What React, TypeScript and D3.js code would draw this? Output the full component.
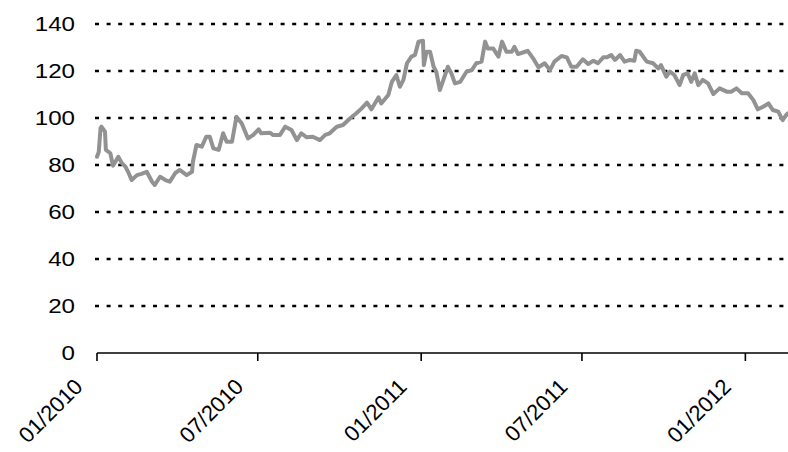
import React from "react";
import * as d3 from "d3";

const startDate = new Date(2010, 0, 1);
const dayOffsets = [0,2,4,5,9,10,15,18,24,28,32,35,39,45,50,56,62,65,71,77,82,88,93,101,107,108,112,118,123,127,131,137,142,146,152,157,163,170,176,182,185,195,
198,206,212,219,225,230,236,243,251,257,262,270,277,285,292,298,304,309,317,320,328,332,337,341,345,349,354,358,362,367,368,371,375,379,382,386,390,395,399,403,409,416,422,427,433,437,440,446,452,456,461,467,470,474,482,485,491,497,504,510,515,523,529,534,540,547,553,559,564,570,574,579,583,589,594,600,605,607,611,619,626,632,635,641,645,650,656,660,665,669,673,677,682,688,694,701,709,714,720,726,733,739,744,750,756,761,767,772,776,778];
const values = [83.5,85.6,95.7,96.3,94.2,86.4,85,79.7,83.5,80.8,79.3,77.1,73.6,75.7,76.2,77.1,72.9,71.5,75,73.6,72.9,76.5,77.9,75.7,77.1,81.4,88.5,87.8,92,92,87.1,86.4,93.5,89.9,89.9,100.5,97.7,91.3,92.8,95.2,93.5,93.7,
92.8,92.8,96.3,94.9,90.6,93.5,91.8,92,90.6,92.8,93.5,96.3,97,99.9,102,104.1,106.5,103.7,108.8,106.2,109.8,115.4,118.3,113.3,116.2,123.3,126.1,126.8,132.5,132.9,122.5,128.2,128.2,121.8,119.7,111.9,116.2,121.8,119,114.7,115.4,119.7,120.4,123.3,124,132.5,129.6,129.6,126.1,132.5,128.2,128.2,130.3,127.2,128.2,128.6,125.4,121.6,123.3,120.4,124,126.4,125.8,121.8,121.8,125,123,124.4,123.3,125.8,125.8,126.8,124.7,126.8,124,124.7,124.4,128.6,128.2,124,123.3,121.1,122.5,117.6,119.7,118.3,114,118.3,119,115.4,119,114,116.2,114.7,110.2,112.6,111.2,111.2,112.6,110.5,110.5,107.6,103.7,104.8,106.2,103.4,102.7,99.1,101.3,102];

const yTicks = [0, 20, 40, 60, 80, 100, 120, 140];
const xTickLabels = ["01/2010", "07/2010", "01/2011", "07/2011", "01/2012"];
const xTickDates = [new Date(2010, 0, 1), new Date(2010, 6, 1), new Date(2011, 0, 1), new Date(2011, 6, 1), new Date(2012, 0, 1)];

const W = 788, H = 452;
const FONT = "'Liberation Sans', Arial, sans-serif";

export default function App() {
  const data = dayOffsets.map((d, i) => ({ date: d3.timeDay.offset(startDate, d), v: values[i] }));
  const x = d3.scaleTime()
    .domain([startDate, d3.timeDay.offset(startDate, dayOffsets[dayOffsets.length - 1])])
    .range([97, 788]);
  const y = d3.scaleLinear().domain([0, 140]).range([353, 24]);
  const line = d3.line<{ date: Date; v: number }>()
    .x(d => x(d.date))
    .y(d => y(d.v));

  return (
    <svg width={W} height={H} style={{ position: "absolute", left: 0, top: 0, background: "#fff" }}>
      <rect width={W} height={H} fill="#fff" />
      {yTicks.filter(t => t > 0).map(t => (
        <line key={t} x1={95} x2={788} y1={y(t)} y2={y(t)} stroke="#000" strokeWidth={2.6} strokeDasharray="4,7.6" />
      ))}
      <path d={line(data) || ""} fill="none" stroke="#929292" strokeWidth={4} strokeLinejoin="round" strokeLinecap="round" />
      <line x1={97} x2={788} y1={y(0)} y2={y(0)} stroke="#000" strokeWidth={1.6} />
      {xTickDates.map((d, i) => (
        <line key={i} x1={x(d)} x2={x(d)} y1={y(0)} y2={y(0) + 8} stroke="#000" strokeWidth={1.6} />
      ))}
      {yTicks.map(t => (
        <text key={t} transform={`translate(75,${y(t)}) scale(1.15,1)`} textAnchor="end" dominantBaseline="central"
          fontFamily={FONT} fontSize={21} fill="#000">{t}</text>
      ))}
      {xTickLabels.map((lab, i) => (
        <text key={lab} transform={`translate(${x(xTickDates[i]) - 13},388) rotate(-45)`} textAnchor="end"
          fontFamily={FONT} fontSize={22} fill="#000">{lab}</text>
      ))}
    </svg>
  );
}
